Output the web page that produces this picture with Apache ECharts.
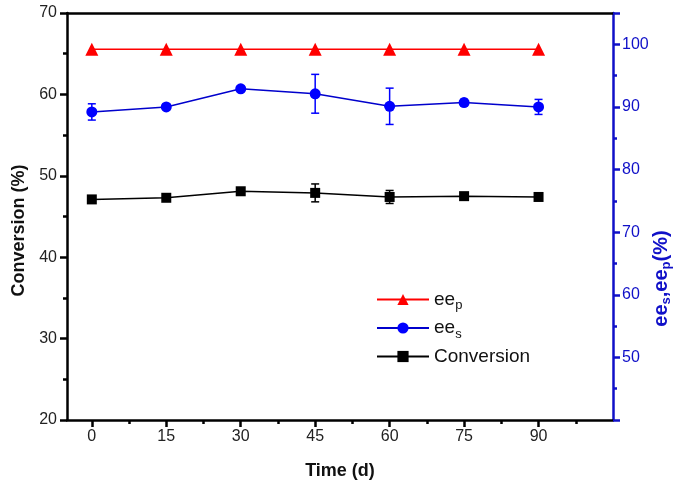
<!DOCTYPE html>
<html><head><meta charset="utf-8">
<script src="https://cdn.jsdelivr.net/npm/echarts@6/dist/echarts.min.js"></script>
<style>html,body{margin:0;padding:0;background:#fff}#c{width:683px;height:492px}</style>
</head><body><div id="c"></div>
<script>
const days = [0, 15, 30, 45, 60, 75, 90];
const conversion = [47.1, 47.3, 48.1, 47.9, 47.4, 47.5, 47.4];
const conversionErr = [0.4, 0.3, 0.3, 1.1, 0.8, 0.4, 0.4];
const ees = [89.2, 90.0, 92.9, 92.1, 90.1, 90.7, 90.0];
const eesErr = [1.3, 0.4, 0.4, 3.1, 2.9, 0.5, 1.2];
const eep = [99.2, 99.2, 99.2, 99.2, 99.2, 99.2, 99.2];
const xTickLabels = [0, 15, 30, 45, 60, 75, 90];
const xMinorTicks = [7.5, 22.5, 37.5, 52.5, 67.5, 82.5, 97.5];

const FONT = 'Liberation Sans, Arial, sans-serif';
const BLUE = '#0000ff';
const AXBLUE = '#1010c8';

function errSeries(vals, errs, yIdx, color) {
  return {
    type: 'custom', xAxisIndex: 0, yAxisIndex: yIdx, silent: true, z: 1,
    data: days.map((d, i) => [d, vals[i] - errs[i], vals[i] + errs[i]]),
    encode: { x: 0, y: [1, 2] },
    renderItem(params, api) {
      const x = api.value(0);
      const lo = api.coord([x, api.value(1)]);
      const hi = api.coord([x, api.value(2)]);
      const w = 4;
      const st = { stroke: color, lineWidth: 1.5 };
      return { type: 'group', children: [
        { type: 'line', shape: { x1: lo[0], y1: lo[1], x2: hi[0], y2: hi[1] }, style: st },
        { type: 'line', shape: { x1: lo[0] - w, y1: lo[1], x2: lo[0] + w, y2: lo[1] }, style: st },
        { type: 'line', shape: { x1: hi[0] - w, y1: hi[1], x2: hi[0] + w, y2: hi[1] }, style: st }
      ]};
    }
  };
}

const chart = echarts.init(document.getElementById('c'));
chart.setOption({
  animation: false,
  backgroundColor: '#fff',
  textStyle: { fontFamily: FONT },
  grid: { left: 67, right: 70, top: 13, bottom: 72, containLabel: false, outerBoundsMode: 'none' },
  legend: {
    data: ['eep', 'ees', 'Conversion'],
    orient: 'vertical', left: 371, top: 285,
    itemWidth: 52, itemHeight: 14, itemGap: 6.5,
    formatter: n => n === 'eep' ? 'ee{sub|p}' : n === 'ees' ? 'ee{sub|s}' : n,
    textStyle: {
      fontFamily: FONT, fontSize: 19, color: '#111',
      rich: { sub: { fontFamily: FONT, fontSize: 13, color: '#111', padding: [12, 0, 0, 0] } }
    }
  },
  xAxis: [
    {
      type: 'value', position: 'bottom', min: -5, max: 105,
      name: 'Time (d)', nameLocation: 'middle', nameGap: 42,
      nameTextStyle: { fontFamily: FONT, fontSize: 18, fontWeight: 'bold', color: '#111' },
      axisLine: { show: true, onZero: false, lineStyle: { color: '#000', width: 2.5 } },
      axisTick: { show: true, customValues: xTickLabels, length: 7, lineStyle: { color: '#000', width: 2.5 } },
      axisLabel: { customValues: xTickLabels, fontSize: 16, color: '#222', margin: 9, fontFamily: FONT },
      splitLine: { show: false }
    },
    {
      type: 'value', position: 'bottom', min: -5, max: 105,
      axisLine: { show: false, onZero: false },
      axisTick: { show: true, customValues: xMinorTicks, length: 4, lineStyle: { color: '#000', width: 2.5 } },
      axisLabel: { show: false },
      splitLine: { show: false }
    },
    {
      type: 'value', position: 'top', min: -5, max: 105,
      axisLine: { show: true, onZero: false, lineStyle: { color: '#000', width: 2.5 } },
      axisTick: { show: false }, axisLabel: { show: false }, splitLine: { show: false }
    }
  ],
  yAxis: [
    {
      type: 'value', position: 'left', min: 20, max: 70, interval: 10,
      name: 'Conversion (%)', nameLocation: 'middle', nameGap: 39, nameRotate: 90,
      nameTextStyle: { fontFamily: FONT, fontSize: 18, fontWeight: 'bold', color: '#111', padding: [0, 28, 0, 0] },
      axisLine: { show: true, onZero: false, lineStyle: { color: '#000', width: 2.5 } },
      axisTick: { show: true, length: 7, lineStyle: { color: '#000', width: 2.5 } },
      minorTick: { show: true, splitNumber: 2, length: 4, lineStyle: { color: '#000', width: 2.5 } },
      axisLabel: { fontSize: 16, color: '#222', margin: 10, fontFamily: FONT },
      splitLine: { show: false }
    },
    {
      type: 'value', position: 'right', min: 40, max: 105, interval: 10,
      name: 'ee{sub|s},ee{sub|p}(%)', nameLocation: 'middle', nameGap: 36, nameRotate: 90,
      nameMoveOverlap: false,
      nameTextStyle: {
        fontFamily: FONT, fontSize: 20, fontWeight: 'bold', color: AXBLUE, padding: [0, 124, 0, 0],
        rich: { sub: { fontFamily: FONT, fontSize: 13, fontWeight: 'bold', color: AXBLUE, padding: [11, 0, 0, 0] } }
      },
      axisLine: { show: true, onZero: false, lineStyle: { color: AXBLUE, width: 2.5 } },
      axisTick: { show: true, length: 7, lineStyle: { color: AXBLUE, width: 2.5 } },
      minorTick: { show: true, splitNumber: 2, length: 4, lineStyle: { color: AXBLUE, width: 2.5 } },
      axisLabel: { fontSize: 16, color: AXBLUE, margin: 9, fontFamily: FONT, showMinLabel: false, showMaxLabel: false },
      splitLine: { show: false }
    }
  ],
  series: [
    errSeries(conversion, conversionErr, 0, '#000'),
    errSeries(ees, eesErr, 1, BLUE),
    {
      name: 'eep', type: 'line', xAxisIndex: 0, yAxisIndex: 1,
      data: days.map((d, i) => [d, eep[i]]),
      symbol: 'triangle', symbolSize: 13,
      lineStyle: { color: '#ff0000', width: 1.5 }, itemStyle: { color: '#ff0000' }, z: 3
    },
    {
      name: 'ees', type: 'line', xAxisIndex: 0, yAxisIndex: 1,
      data: days.map((d, i) => [d, ees[i]]),
      symbol: 'circle', symbolSize: 11,
      lineStyle: { color: '#0000cc', width: 1.5 }, itemStyle: { color: BLUE }, z: 3
    },
    {
      name: 'Conversion', type: 'line', xAxisIndex: 0, yAxisIndex: 0,
      data: days.map((d, i) => [d, conversion[i]]),
      symbol: 'rect', symbolSize: 10,
      lineStyle: { color: '#000', width: 1.5 }, itemStyle: { color: '#000' }, z: 3
    }
  ]
});
</script>
</body></html>
